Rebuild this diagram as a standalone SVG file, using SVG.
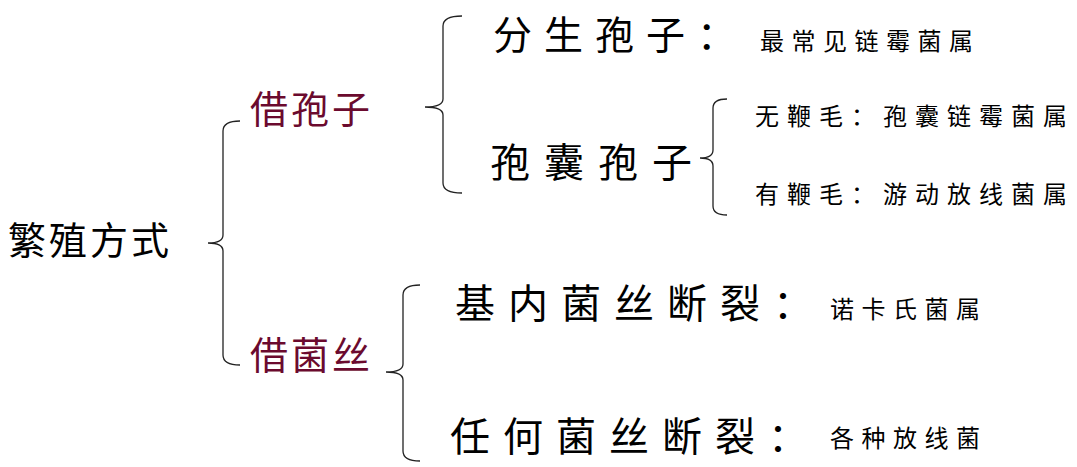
<svg xmlns="http://www.w3.org/2000/svg" width="1077" height="467" viewBox="0 0 1077 467">
<style>
text{font-family:"Noto Sans CJK SC","Noto Sans",sans-serif;fill:#000}
.m{fill:#6b0a2e}
.l{font-size:38px;letter-spacing:3px}
.b{font-size:40px;letter-spacing:12px}
.s{font-size:24px;letter-spacing:7.5px}
.brace{fill:none;stroke:#222;stroke-width:1.3}
</style>
<rect width="1077" height="467" fill="#fff"/>
<g id="connectors">
<path class="brace" d="M240,121 Q223,121 223,131 L223,235 Q223,243 208,243 Q223,243 223,251 L223,355 Q223,365 240,365"/>
<path class="brace" d="M462,16 Q443,16 443,26 L443,99 Q443,107 425,107 Q443,107 443,115 L443,183 Q443,193 462,193"/>
<path class="brace" d="M727,99 Q713,99 713,108 L713,150 Q713,158 700,158 Q713,158 713,166 L713,206 Q713,215 727,215"/>
<path class="brace" d="M420,285 Q403,285 403,295 L403,364 Q403,372 386,372 Q403,372 403,380 L403,451 Q403,461 420,461"/>
</g>
<g id="root"><text class="l" x="8" y="254">繁殖方式</text></g>
<g id="n-spore"><text class="l m" x="250" y="123">借孢子</text></g>
<g id="n-hypha"><text class="l m" x="250" y="369">借菌丝</text></g>
<g id="n-conidia"><text class="b" x="493" y="49" style="font-size:39px;letter-spacing:12px">分生孢子：</text><text class="s" x="760" y="50">最常见链霉菌属</text></g>
<g id="n-sporangio"><text class="b" x="490" y="177" style="letter-spacing:14px">孢囊孢子</text></g>
<g id="n-noflag"><text class="s" x="755" y="125" style="letter-spacing:8px">无鞭毛：孢囊链霉菌属</text></g>
<g id="n-flag"><text class="s" x="755" y="203" style="letter-spacing:8px">有鞭毛：游动放线菌属</text></g>
<g id="n-sub"><text class="b" x="455" y="318" style="letter-spacing:13px">基内菌丝断裂：</text><text class="s" x="830" y="318">诺卡氏菌属</text></g>
<g id="n-any"><text class="b" x="450" y="451" style="letter-spacing:13px">任何菌丝断裂：</text><text class="s" x="830" y="447">各种放线菌</text></g>
</svg>
